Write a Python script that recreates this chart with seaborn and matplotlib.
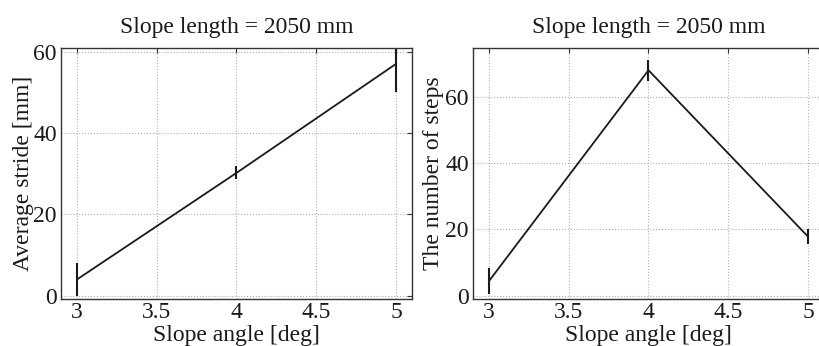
import matplotlib
matplotlib.use("Agg")
import matplotlib.pyplot as plt
import seaborn as sns
import pandas as pd

angles = [3, 4, 5]
stride_mean = [4.0, 30.2, 57.0]
stride_err = [4.0, 1.6, 7.0]
steps_mean = [4.4, 68.0, 17.8]
steps_err = [4.0, 3.2, 2.2]
title = "Slope length = 2050 mm"
xlabel = "Slope angle [deg]"
ylabels = ["Average stride [mm]", "The number of steps"]
xticks = [3, 3.5, 4, 4.5, 5]
xticklabels = ["3", "3.5", "4", "4.5", "5"]
yticks = [0, 20, 40, 60]

sns.set_theme(style="white")
plt.rcParams["font.family"] = ["Liberation Serif", "DejaVu Serif"]

fig = plt.figure(figsize=(8.2, 3.46), dpi=100)
W, H = 820, 346
def rect(x0, x1, y0, y1):
    return [x0 / W, (H - y1) / H, (x1 - x0) / W, (y1 - y0) / H]

ax1 = fig.add_axes(rect(61, 412, 48, 299))
ax2 = fig.add_axes(rect(473, 824, 48, 299))

for ax, mean, err, ylab, ylim, ylx in [
    (ax1, stride_mean, stride_err, ylabels[0], (-0.8, 60.9), -0.107),
    (ax2, steps_mean, steps_err, ylabels[1], (-1.0, 74.7), -0.112),
]:
    df = pd.DataFrame({"angle": angles, "value": mean})
    sns.lineplot(data=df, x="angle", y="value", ax=ax, color="#1a1a1a", lw=1.3)
    ax.errorbar(angles, mean, yerr=err, fmt="none", ecolor="#1a1a1a",
                elinewidth=1.5, capsize=0, clip_on=True)
    ax.set_xlim(2.9, 5.1)
    ax.set_ylim(*ylim)
    ax.set_xticks(xticks)
    ax.set_xticklabels(xticklabels)
    ax.set_yticks(yticks)
    ax.grid(True, ls=":", color="#b0b0b0", lw=0.8)
    ax.tick_params(direction="in", top=True, right=True, length=3.5,
                   width=0.8, color="#333333", labelsize=17, pad=3,
                   labelcolor="#1a1a1a")
    ax.tick_params(axis="x", pad=2)
    for s in ax.spines.values():
        s.set_color("#333333")
        s.set_linewidth(1.0)
    ax.set_xlabel(xlabel, fontsize=17, color="#1a1a1a", va="center")
    ax.xaxis.set_label_coords(0.5, -0.145)
    ax.set_ylabel(ylab, fontsize=17, color="#1a1a1a", va="center")
    ax.yaxis.set_label_coords(ylx, 0.5)
    ax.set_title(title, fontsize=17, pad=11, color="#1a1a1a")
    ax.set_facecolor("white")

fig.savefig("out.png", dpi=100)
